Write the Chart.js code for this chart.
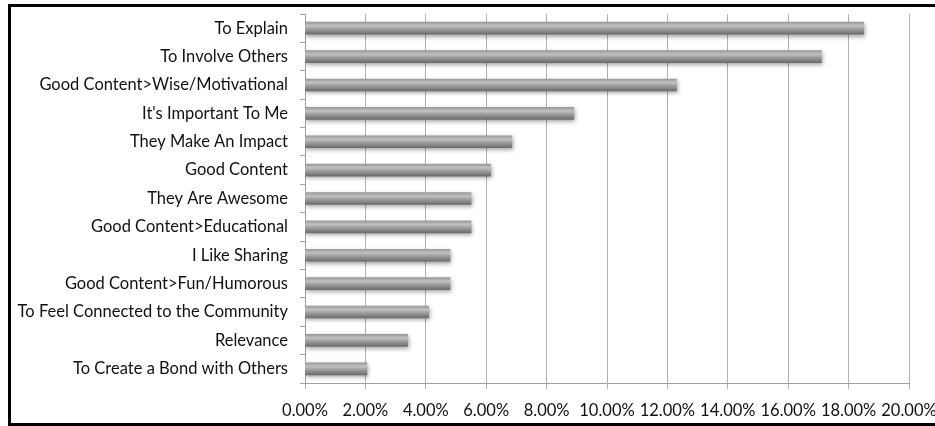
<!DOCTYPE html>
<html>
<head>
<meta charset="utf-8">
<script src="https://cdn.jsdelivr.net/npm/chart.js@4/dist/chart.umd.min.js"></script>
<style>
  html, body { margin: 0; padding: 0; background: #fff; }
  #wrap { position: relative; width: 935px; height: 426px; overflow: hidden; }
  #frame { position: absolute; left: 8px; top: 4px; width: 940px; height: 416px;
           border-left: 3px solid #000; border-top: 3px solid #000; border-bottom: 3px solid #000; }
  canvas { position: absolute; left: 0; top: 0; }
</style>
</head>
<body>
<div id="wrap">
  <div id="frame"></div>
  <canvas id="reasons" width="935" height="426"></canvas>
</div>
<script>
// reasons, top to bottom as shown
var categories = [
  "To Explain",
  "To Involve Others",
  "Good Content>Wise/Motivational",
  "It's Important To Me",
  "They Make An Impact",
  "Good Content",
  "They Are Awesome",
  "Good Content>Educational",
  "I Like Sharing",
  "Good Content>Fun/Humorous",
  "To Feel Connected to the Community",
  "Relevance",
  "To Create a Bond with Others"
];
var shares = [18.5, 17.1, 12.3, 8.9, 6.85, 6.15, 5.5, 5.5, 4.8, 4.8, 4.1, 3.4, 2.05];
var xTicks = [0, 2, 4, 6, 8, 10, 12, 14, 16, 18, 20];

var font = "Lato";

function barFill(c) {
  var chart = c.chart;
  var ys = chart.scales.y;
  if (!ys || !chart.chartArea) return '#9a9a9a';
  var mid = ys.getPixelForValue(c.dataIndex);
  var g = chart.ctx.createLinearGradient(0, mid - 6, 0, mid + 6);
  g.addColorStop(0, '#999999');
  g.addColorStop(0.3, '#c2c2c2');
  g.addColorStop(0.55, '#a0a0a0');
  g.addColorStop(1, '#6c6c6c');
  return g;
}

var shadow = {
  id: 'barShadow',
  beforeDatasetsDraw: function(chart) {
    var ctx = chart.ctx;
    ctx.save();
    ctx.shadowColor = 'rgba(0,0,0,0.35)';
    ctx.shadowBlur = 4;
    ctx.shadowOffsetX = 1;
    ctx.shadowOffsetY = 2;
  },
  afterDatasetsDraw: function(chart) {
    chart.ctx.restore();
  }
};

var ctx = document.getElementById('reasons').getContext('2d');
var chart = new Chart(ctx, {
  type: 'bar',
  data: {
    labels: categories,
    datasets: [{
      data: shares,
      backgroundColor: barFill,
      borderWidth: 0,
      barThickness: 12
    }]
  },
  options: {
    indexAxis: 'y',
    responsive: false,
    animation: false,
    layout: { padding: { top: 14, right: 26, left: 0, bottom: 0 } },
    plugins: { legend: { display: false }, tooltip: { enabled: false } },
    scales: {
      x: {
        min: 0, max: 20,
        afterBuildTicks: function(s) { s.ticks = xTicks.map(function(v) { return { value: v }; }); },
        afterFit: function(s) { s.height = 43; s.paddingLeft = 0; s.paddingRight = 0; },
        grid: { color: '#b0b0b0', lineWidth: 1, tickLength: 6, drawTicks: true },
        border: { color: '#a0a0a0' },
        ticks: {
          color: '#111', padding: 12, maxRotation: 0, autoSkip: false,
          font: { family: font, size: 16.5 },
          callback: function(v) { return v.toFixed(2) + '%'; }
        }
      },
      y: {
        afterFit: function(s) { s.width = 305; s.paddingTop = 0; s.paddingBottom = 0; },
        grid: { drawOnChartArea: false, offset: true, tickLength: 5, color: '#a0a0a0' },
        border: { color: '#a0a0a0' },
        ticks: { color: '#111', padding: 12, autoSkip: false, font: { family: font, size: 16.5 } }
      }
    }
  },
  plugins: [shadow]
});
</script>
</body>
</html>
